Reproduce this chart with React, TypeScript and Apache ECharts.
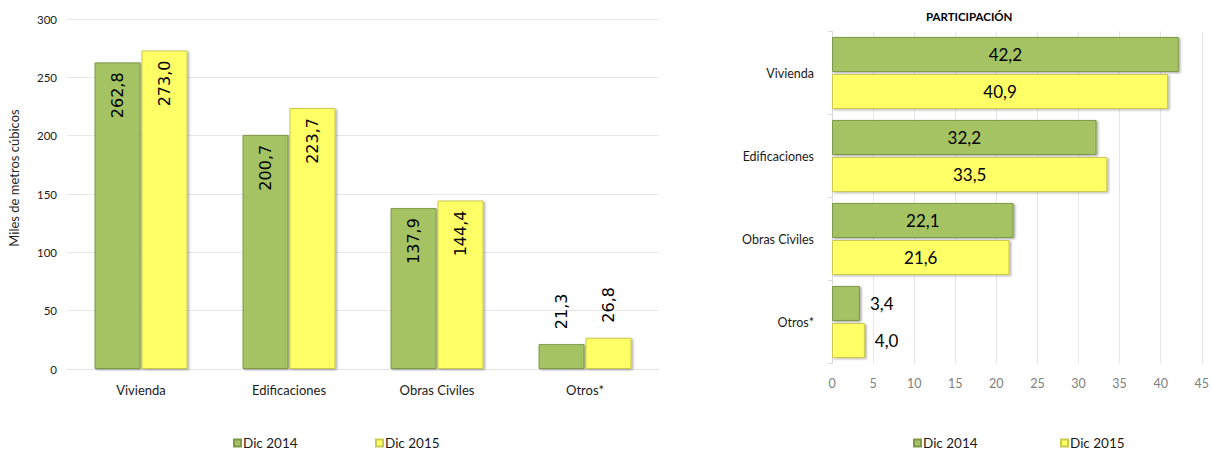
import React, { useEffect, useRef } from "react";
import * as echarts from "echarts";

const categories = ["Vivienda", "Edificaciones", "Obras Civiles", "Otros*"];
const seriesNames = ["Dic 2014", "Dic 2015"];
const volume2014 = [262.8, 200.7, 137.9, 21.3];
const volume2015 = [273.0, 223.7, 144.4, 26.8];
const share2014 = [42.2, 32.2, 22.1, 3.4];
const share2015 = [40.9, 33.5, 21.6, 4.0];
const volumeTicks = [0, 50, 100, 150, 200, 250, 300];
const shareTicks = [0, 5, 10, 15, 20, 25, 30, 35, 40, 45];

const fmt = (v: number) => v.toFixed(1).replace(".", ",");

const GREEN = "#A6C364";
const GREEN_EDGE = "#7E9947";
const YELLOW = "#FFFF66";
const YELLOW_EDGE = "#CACA50";
const FONT = "Lato";

export default function App() {
  const ref = useRef<HTMLDivElement>(null);

  useEffect(() => {
    if (!ref.current) return;
    const chart = echarts.init(ref.current, undefined, { renderer: "svg" });

    const barStyle = (fill: string, edge: string) => ({
      color: fill,
      borderColor: edge,
      borderWidth: 1,
      shadowColor: "rgba(0,0,0,0.35)",
      shadowBlur: 2,
      shadowOffsetX: 1.5,
      shadowOffsetY: 1,
    });

    const volLabelInside = {
      show: true,
      position: "insideTop",
      rotate: 90,
      align: "right",
      verticalAlign: "middle",
      distance: 10,
      fontFamily: "DejaVu Sans",
      fontSize: 16,
      color: "#000",
      formatter: (p: any) => fmt(p.value),
    };
    const volLabelOutside = {
      show: true,
      position: "top",
      rotate: 90,
      align: "left",
      verticalAlign: "middle",
      distance: 15,
      fontFamily: "DejaVu Sans",
      fontSize: 16,
      color: "#000",
      formatter: (p: any) => fmt(p.value),
    };
    const volData = (vals: number[]) =>
      vals.map((v) => (v < 60 ? { value: v, label: volLabelOutside } : v));

    const shareLabelInside = {
      show: true,
      position: "inside",
      fontFamily: FONT,
      fontSize: 17,
      color: "#000",
      formatter: (p: any) => fmt(p.value),
    };
    const shareLabelOutside = {
      show: true,
      position: "right",
      distance: 10,
      fontFamily: FONT,
      fontSize: 17,
      color: "#000",
      formatter: (p: any) => fmt(p.value),
    };
    const shareData = (vals: number[]) =>
      vals.map((v) => (v < 8 ? { value: v, label: shareLabelOutside } : v));

    const legendBase = {
      top: 431,
      itemWidth: 7,
      itemHeight: 7,
      itemGap: 5,
      icon: "rect",
      textStyle: { fontFamily: FONT, fontSize: 13.5, color: "#1a1a1a", padding: [0, 0, 0, -3] },
    };

    chart.setOption({
      animation: false,
      backgroundColor: "#fff",
      textStyle: { fontFamily: FONT },
      color: [GREEN, YELLOW],
      title: {
        text: "PARTICIPACIÓN",
        left: 921,
        top: 5,
        textStyle: { fontFamily: FONT, fontSize: 11.5, fontWeight: "bold", color: "#000" },
      },
      legend: [
        { ...legendBase, left: 228, data: [seriesNames[0]] },
        { ...legendBase, left: 370, data: [seriesNames[1]] },
        { ...legendBase, left: 908, data: [seriesNames[0]] },
        { ...legendBase, left: 1055, data: [seriesNames[1]] },
      ],
      graphic: [
        {
          type: "text",
          x: 14,
          y: 178,
          rotation: Math.PI / 2,
          style: {
            text: "Miles de metros cúbicos",
            fontFamily: FONT,
            fontSize: 13,
            fill: "#262626",
            align: "center",
            verticalAlign: "middle",
          },
        },
      ],
      grid: [
        { left: 67, right: 553, top: 19, bottom: 82 },
        { left: 832, right: 7, top: 31.5, bottom: 87.5 },
      ],
      xAxis: [
        {
          gridIndex: 0,
          type: "category",
          data: categories,
          axisLine: { show: true, lineStyle: { color: "#E3E3E3" } },
          axisTick: { show: false },
          axisLabel: { margin: 14, fontFamily: FONT, fontSize: 13, color: "#1a1a1a" },
        },
        {
          gridIndex: 1,
          type: "value",
          min: shareTicks[0],
          max: shareTicks[shareTicks.length - 1],
          interval: shareTicks[1] - shareTicks[0],
          axisLine: { show: false },
          axisTick: { show: false },
          splitLine: { show: true, lineStyle: { color: "#E6E6E6" } },
          axisLabel: { margin: 13, fontFamily: FONT, fontSize: 12.5, color: "#808080" },
        },
      ],
      yAxis: [
        {
          gridIndex: 0,
          type: "value",
          min: volumeTicks[0],
          max: volumeTicks[volumeTicks.length - 1],
          interval: volumeTicks[1] - volumeTicks[0],
          axisLine: { show: false },
          axisTick: { show: false },
          splitLine: { show: true, lineStyle: { color: "#E8E8E8" } },
          axisLabel: { margin: 10, fontFamily: FONT, fontSize: 11.5, color: "#1a1a1a" },
        },
        {
          gridIndex: 1,
          type: "category",
          inverse: true,
          data: categories,
          axisLine: { show: true, lineStyle: { color: "#D9D9D9" } },
          axisTick: { show: true, length: 4, lineStyle: { color: "#D9D9D9" } },
          axisLabel: { margin: 18, fontFamily: FONT, fontSize: 12.5, color: "#1a1a1a" },
        },
      ],
      series: [
        {
          name: seriesNames[0],
          type: "bar",
          xAxisIndex: 0,
          yAxisIndex: 0,
          barWidth: 46,
          barGap: "2%",
          data: volData(volume2014),
          itemStyle: barStyle(GREEN, GREEN_EDGE),
          label: volLabelInside,
        },
        {
          name: seriesNames[1],
          type: "bar",
          xAxisIndex: 0,
          yAxisIndex: 0,
          barWidth: 46,
          barGap: "2%",
          data: volData(volume2015),
          itemStyle: barStyle(YELLOW, YELLOW_EDGE),
          label: volLabelInside,
        },
        {
          name: seriesNames[0],
          type: "bar",
          xAxisIndex: 1,
          yAxisIndex: 1,
          barWidth: 35,
          barGap: "6%",
          data: shareData(share2014),
          itemStyle: barStyle(GREEN, GREEN_EDGE),
          label: shareLabelInside,
        },
        {
          name: seriesNames[1],
          type: "bar",
          xAxisIndex: 1,
          yAxisIndex: 1,
          barWidth: 35,
          barGap: "6%",
          data: shareData(share2015),
          itemStyle: barStyle(YELLOW, YELLOW_EDGE),
          label: shareLabelInside,
        },
      ],
    });

    return () => chart.dispose();
  }, []);

  return (
    <div
      ref={ref}
      style={{ position: "fixed", left: 0, top: 0, width: 1212, height: 451 }}
    />
  );
}
